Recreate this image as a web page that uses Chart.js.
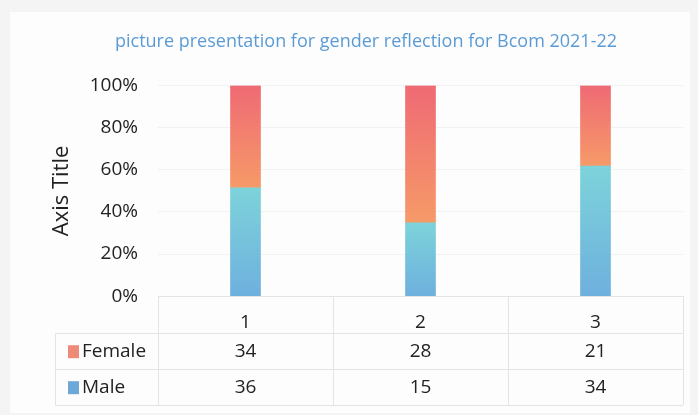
<!DOCTYPE html>
<html>
<head>
<meta charset="utf-8">
<script src="https://cdn.jsdelivr.net/npm/chart.js@4.4.1/dist/chart.umd.min.js"></script>
<style>
  body { margin: 0; background: #ffffff; }
  #wrap { width: 698px; height: 415px; }
</style>
</head>
<body>
<div id="wrap"><canvas id="genderChart" width="698" height="415"></canvas></div>
<script>
// Data
const categories = ['1', '2', '3'];
const femaleCounts = [34, 28, 21];
const maleCounts = [36, 15, 34];
const yTicks = ['0%', '20%', '40%', '60%', '80%', '100%'];

const FONT = "'Open Sans', 'Noto Sans', sans-serif";

// 100% stacked shares
const totals = categories.map((c, i) => femaleCounts[i] + maleCounts[i]);
const malePct = maleCounts.map((v, i) => v / totals[i] * 100);
const femalePct = femaleCounts.map((v, i) => v / totals[i] * 100);

// each segment gets its own vertical gradient
function segmentGradient(context, bottomColor, topColor, isMale) {
    const chart = context.chart;
    const y = chart.scales.y;
    if (!chart.chartArea || !y || context.dataIndex === undefined) return bottomColor;
    const i = context.dataIndex;
    const from = isMale ? 0 : malePct[i];
    const to = isMale ? malePct[i] : 100;
    const g = chart.ctx.createLinearGradient(0, y.getPixelForValue(from), 0, y.getPixelForValue(to));
    g.addColorStop(0, bottomColor);
    g.addColorStop(1, topColor);
    return g;
}

const backgroundPlugin = {
    id: 'background',
    beforeDraw(chart) {
        const ctx = chart.ctx;
        ctx.save();
        ctx.fillStyle = '#f4f4f4';
        ctx.fillRect(0, 0, chart.width, chart.height);
        ctx.fillStyle = '#fdfdfd';
        ctx.fillRect(10, 12, chart.width - 18, chart.height - 14);
        ctx.restore();
    }
};

// data table under the plot
const dataTablePlugin = {
    id: 'dataTable',
    afterDraw(chart) {
        const ctx = chart.ctx;
        const area = chart.chartArea;
        const x = chart.scales.x;
        const colW = (area.right - area.left) / categories.length;
        const rowTop = area.bottom + 37;
        const rowH = 36;
        const tableLeft = 55;

        ctx.save();
        ctx.strokeStyle = '#e4e4e4';
        ctx.lineWidth = 1;
        ctx.beginPath();
        for (let r = 0; r <= 2; r++) {
            const yy = Math.round(rowTop + r * rowH) + 0.5;
            ctx.moveTo(tableLeft, yy);
            ctx.lineTo(area.right, yy);
        }
        for (let c = 0; c <= categories.length; c++) {
            const xx = Math.round(area.left + c * colW) + 0.5;
            ctx.moveTo(xx, area.bottom);
            ctx.lineTo(xx, rowTop + 2 * rowH);
        }
        ctx.moveTo(tableLeft + 0.5, rowTop);
        ctx.lineTo(tableLeft + 0.5, rowTop + 2 * rowH);
        ctx.stroke();

        const rows = [
            { label: 'Female', values: femaleCounts, color: '#ef8a78' },
            { label: 'Male', values: maleCounts, color: '#6ea8d8' }
        ];
        ctx.font = '19px ' + FONT;
        ctx.textBaseline = 'middle';
        rows.forEach((row, r) => {
            const cy = rowTop + r * rowH + rowH / 2;
            ctx.fillStyle = row.color;
            ctx.fillRect(68, cy - 6, 11, 13);
            ctx.fillStyle = '#222222';
            ctx.textAlign = 'left';
            ctx.fillText(row.label, 82, cy);
            ctx.textAlign = 'center';
            row.values.forEach((v, i) => {
                ctx.fillText(String(v), x.getPixelForValue(i), cy);
            });
        });
        ctx.restore();
    }
};

new Chart(document.getElementById('genderChart'), {
    type: 'bar',
    data: {
        labels: categories,
        datasets: [
            {
                label: 'Male',
                data: malePct,
                backgroundColor: ctx => segmentGradient(ctx, '#6eb0de', '#7dd3da', true),
                borderWidth: 0,
                barThickness: 30
            },
            {
                label: 'Female',
                data: femalePct,
                backgroundColor: ctx => segmentGradient(ctx, '#f69a68', '#ef6a74', false),
                borderWidth: 0,
                barThickness: 30
            }
        ]
    },
    options: {
        responsive: false,
        animation: false,
        devicePixelRatio: 1,
        layout: {
            padding: { left: 49, right: 15, top: 0, bottom: 74 }
        },
        plugins: {
            legend: { display: false },
            tooltip: { enabled: false },
            title: {
                display: true,
                text: 'picture presentation for gender reflection for Bcom 2021-22',
                color: '#5b9bd5',
                font: { family: FONT, size: 18, weight: 'normal' },
                padding: { top: 31, bottom: 33 }
            }
        },
        scales: {
            x: {
                stacked: true,
                grid: { display: false },
                border: { display: true, color: '#e4e4e4' },
                ticks: {
                    color: '#222222',
                    padding: 7,
                    font: { family: FONT, size: 19 }
                }
            },
            y: {
                stacked: true,
                min: 0,
                max: 100,
                afterFit(scale) { scale.width = 109; },
                grid: { color: '#f2f2f2', drawTicks: false },
                border: { display: false },
                ticks: {
                    stepSize: 20,
                    padding: 20,
                    color: '#222222',
                    font: { family: FONT, size: 19 },
                    callback: (v) => yTicks[v / 20]
                },
                title: {
                    display: true,
                    text: 'Axis Title',
                    color: '#222222',
                    font: { family: FONT, size: 22 },
                    padding: { top: 0, bottom: 0 }
                }
            }
        }
    },
    plugins: [backgroundPlugin, dataTablePlugin]
});
</script>
</body>
</html>
